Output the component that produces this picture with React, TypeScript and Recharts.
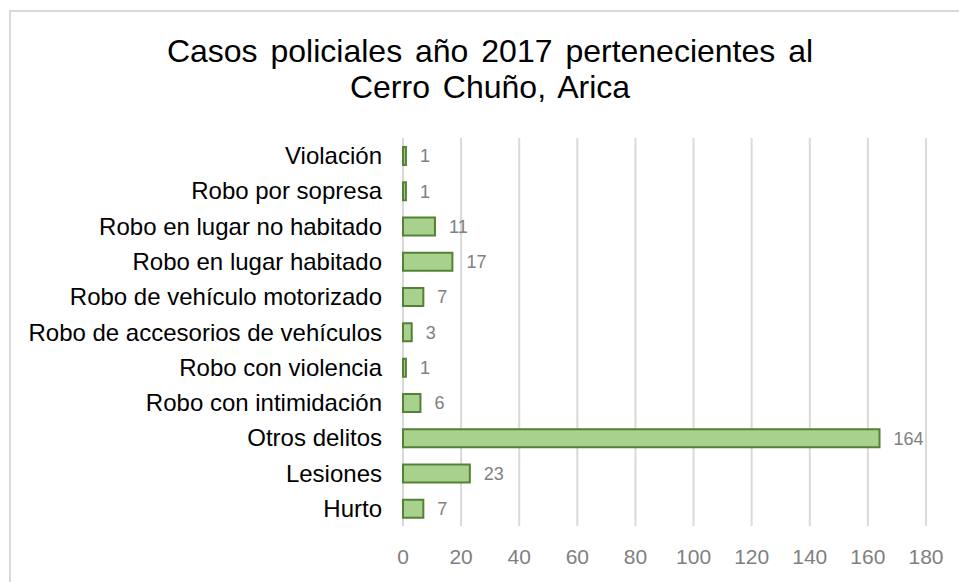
import { BarChart, Bar, XAxis, YAxis, CartesianGrid, LabelList } from "recharts";

const categories = [
  "Violación",
  "Robo por sopresa",
  "Robo en lugar no habitado",
  "Robo en lugar habitado",
  "Robo de vehículo motorizado",
  "Robo de accesorios de vehículos",
  "Robo con violencia",
  "Robo con intimidación",
  "Otros delitos",
  "Lesiones",
  "Hurto",
];
const casos = [1, 1, 11, 17, 7, 3, 1, 6, 164, 23, 7];
const xTicks = [0, 20, 40, 60, 80, 100, 120, 140, 160, 180];

const data = categories.map((name, i) => ({ name, casos: casos[i] }));

const font = "'Liberation Sans', Arial, sans-serif";

export default function App() {
  return (
    <div
      style={{
        position: "absolute",
        left: 0,
        top: 0,
        width: 959,
        height: 582,
        overflow: "hidden",
        background: "#fff",
        fontFamily: font,
      }}
    >
      <div
        style={{
          position: "absolute",
          left: 9,
          top: 10,
          width: 1000,
          height: 700,
          border: "2px solid #d9d9d9",
        }}
      />
      <div
        style={{
          position: "absolute",
          left: 0,
          top: 33,
          width: 980,
          textAlign: "center",
          fontSize: 32,
          lineHeight: "36px",
          wordSpacing: 4,
          color: "#000",
        }}
      >
        Casos policiales año 2017 pertenecientes al
        <br />
        Cerro Chuño, Arica
      </div>
      <div style={{ position: "absolute", left: 0, top: 0 }}>
        <BarChart
          layout="vertical"
          width={959}
          height={582}
          data={data}
          margin={{ top: 138, right: 33, left: 0, bottom: 26 }}
          barSize={18}
        >
          <CartesianGrid horizontal={false} stroke="#d9d9d9" strokeWidth={2} />
          <XAxis
            type="number"
            domain={[0, 180]}
            ticks={xTicks}
            axisLine={false}
            tickLine={false}
            height={30}
            tickMargin={17}
            tick={{ fill: "#808080", fontSize: 21, fontFamily: font }}
          />
          <YAxis
            type="category"
            dataKey="name"
            width={403}
            axisLine={false}
            tickLine={false}
            tickMargin={15}
            interval={0}
            tick={{ fill: "#000", fontSize: 24, fontFamily: font }}
          />
          <Bar
            dataKey="casos"
            fill="#a9d18e"
            stroke="#548235"
            strokeWidth={2}
            isAnimationActive={false}
          >
            <LabelList
              dataKey="casos"
              position="right"
              offset={14}
              fill="#808080"
              fontSize={18}
              fontFamily={font}
            />
          </Bar>
        </BarChart>
      </div>
    </div>
  );
}
